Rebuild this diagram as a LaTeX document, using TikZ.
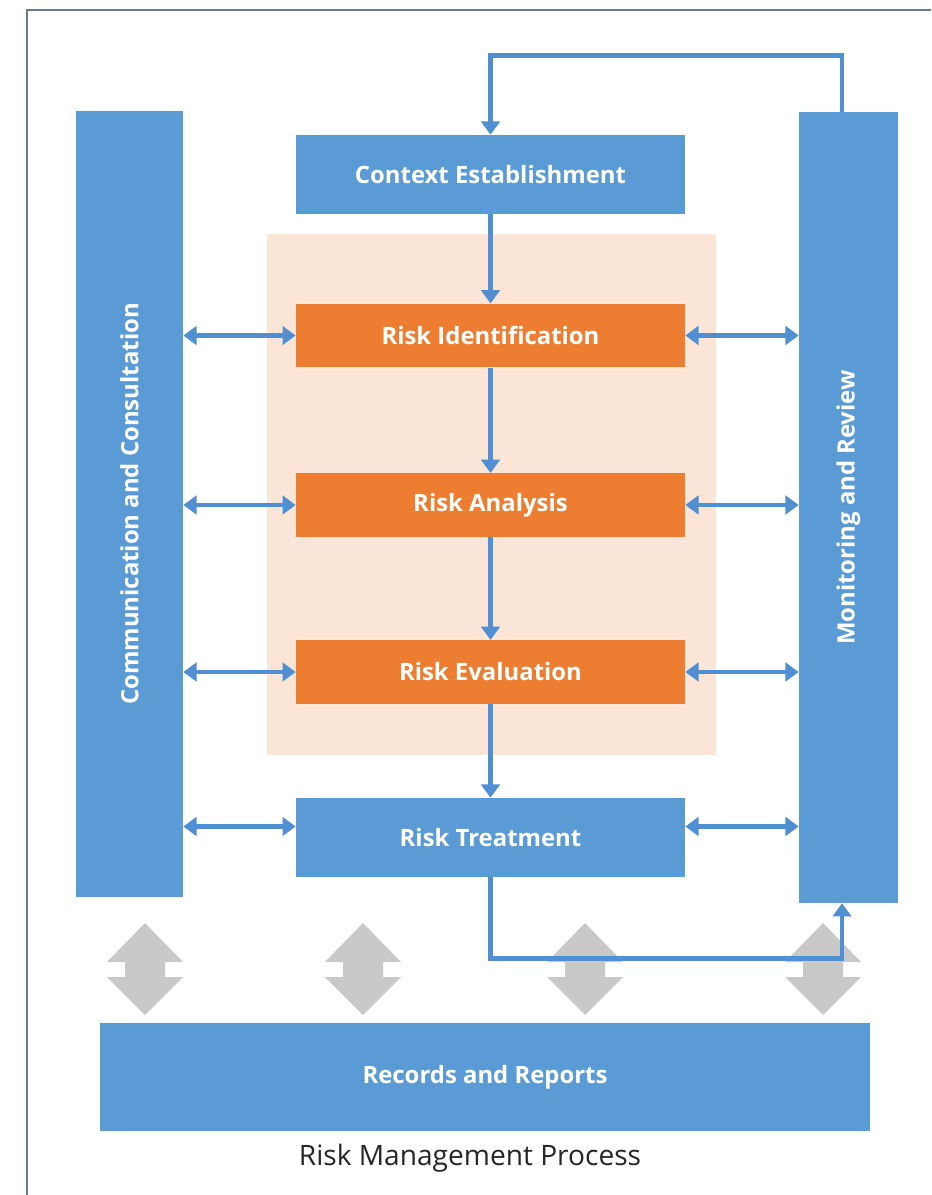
\documentclass[tikz,border=0pt]{standalone}
\usepackage{fontspec}
\setmainfont{Open Sans}
\usetikzlibrary{arrows.meta}

\definecolor{boxblue}{HTML}{5B9BD5}
\definecolor{lineblue}{HTML}{4F8FD2}
\definecolor{steporange}{HTML}{ED7D31}
\definecolor{peach}{HTML}{FBE5D6}
\definecolor{arrowgray}{HTML}{C9C9C9}
\definecolor{framegray}{HTML}{6A7A8A}

\tikzset{
	blk/.style={fill=boxblue, draw=none, inner sep=0pt, text=white,
		font=\fontsize{13.6}{16}\selectfont\bfseries},
	stepbox/.style={blk, fill=steporange, minimum width=7.78cm, minimum height=1.27cm},
	flow/.style={draw=lineblue, line width=2.6pt, -{Triangle[width=10.5pt,length=7.5pt]}},
	both/.style={flow, {Triangle[width=10.5pt,length=7.5pt]}-{Triangle[width=10.5pt,length=7.5pt]}}
}

\begin{document}
\begin{tikzpicture}[x=0.02cm, y=-0.02cm]

	\useasboundingbox (0,0) rectangle (931,1195);
	\draw[framegray, line width=1.2pt] (27,1195) -- (27,10) -- (931,10);

	% process area
	\fill[peach] (267,234) rectangle (716,755);

	\node[blk, minimum width=7.78cm, minimum height=1.58cm] (ctx) at (490.5,174.5) {Context Establishment};
	\node[stepbox] (ident) at (490.5,335.5) {Risk Identification};
	\node[stepbox] (anal) at (490.5,505) {Risk Analysis};
	\node[stepbox] (eval) at (490.5,672) {Risk Evaluation};
	\node[blk, minimum width=7.78cm, minimum height=1.58cm] (trt) at (490.5,837.5) {Risk Treatment};

	\node[blk, rotate=90, minimum width=15.72cm, minimum height=2.14cm] (comm) at (129.5,504) {Communication and Consultation};
	\node[blk, rotate=90, minimum width=15.82cm, minimum height=1.98cm] (mon) at (848.5,507.5) {Monitoring and Review};

	\node[blk, minimum width=15.4cm, minimum height=2.16cm] (rec) at (485,1077) {Records and Reports};
	\node[font=\fontsize{16}{19}\selectfont, text=black!85] (title) at (470,1158) {Risk Management Process};

	% gray double arrows
	\foreach \cx in {145,363,585,823}
		\fill[arrowgray, shift={(\cx,969)}] (0,-46) -- (38,-7) -- (20,-7) -- (20,8) -- (38,8)
			-- (0,46) -- (-38,8) -- (-20,8) -- (-20,-7) -- (-38,-7) -- cycle;

	% main chain
	\draw[flow] (ctx) -- (ident);
	\draw[flow] (ident) -- (anal);
	\draw[flow] (anal) -- (eval);
	\draw[flow] (eval) -- (trt);

	\draw[flow] ([xshift=-0.13cm]mon.east) -- ++(0,-56) -| (ctx.north);
	\draw[flow] (trt.south) -- ++(0,81) -| ([xshift=-0.13cm]mon.west);

	% exchange with the side bars
	\foreach \b in {ident,anal,eval}{
		\draw[both] (\b.west -| comm.south) -- (\b.west);
		\draw[both] (\b.east) -- (\b.east -| mon.north);
	}
	\draw[both] ([yshift=0.22cm]trt.west -| comm.south) -- ([yshift=0.22cm]trt.west);
	\draw[both] ([yshift=0.22cm]trt.east) -- ([yshift=0.22cm]trt.east -| mon.north);

\end{tikzpicture}
\end{document}
